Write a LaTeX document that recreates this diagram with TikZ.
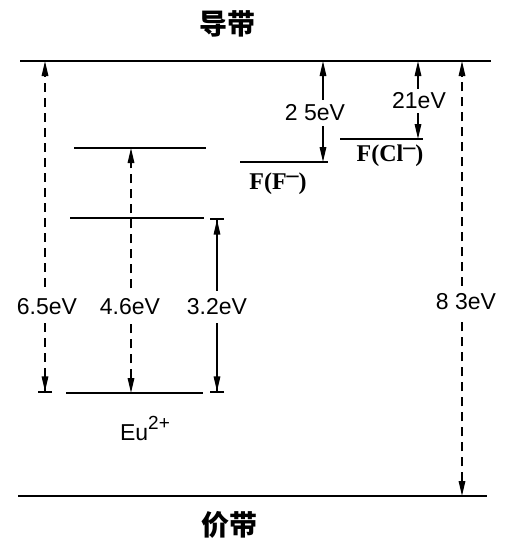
\documentclass[tikz,border=0pt]{standalone}
\usepackage{fontspec}
\setmainfont{Liberation Sans}
\newfontfamily\cjk{Noto Sans CJK SC}
\newfontfamily\serifF{Liberation Serif}
\usetikzlibrary{arrows.meta, positioning}

\begin{document}
\begin{tikzpicture}[
    x=1pt, y=-1pt,
    band/.style={line width=2.8pt},
    lev/.style={line width=2.2pt},
    Tri/.tip={Triangle[length=15pt, width=6.5pt]},
    Br/.tip={Bar[width=14pt, line width=1.6pt]},
    gap/.style={line width=1.6pt, {Tri[]}-{Tri[]}},
    dashgap/.style={gap, dash pattern=on 9pt off 6pt},
    eV/.style={fill=white, inner xsep=1pt, inner ysep=8pt, font=\fontsize{23}{26}\selectfont},
    state/.style={inner sep=0pt, font=\serifF\bfseries\fontsize{24}{26}\selectfont},
    bandname/.style={font=\cjk\bfseries\fontsize{28}{30}\selectfont}
]
\useasboundingbox (0,0) rectangle (509,544);

% Bands
\coordinate (cbL) at (20,61);
\coordinate (cbR) at (491,61);
\coordinate (vbL) at (18,496);
\coordinate (vbR) at (487,496);
\draw[band] (cbL) -- (cbR);
\draw[band] (vbL) -- (vbR);
\node[bandname] (cb) at (227,24) {导带};
\node[bandname] (vb) at (229,525) {价带};

% Eu levels
\coordinate (euTopL) at (74,148);  \coordinate (euTopR) at (206,148);
\coordinate (euMidL) at (70,218);  \coordinate (euMidR) at (204,218);
\coordinate (euGndL) at (66,393);  \coordinate (euGndR) at (203,393);
\draw[lev] (euTopL) -- (euTopR);
\draw[lev] (euMidL) -- (euMidR);
\draw[lev] (euGndL) -- (euGndR);

% F centre levels
\coordinate (fFL) at (240,162);   \coordinate (fFR) at (328,162);
\coordinate (fClL) at (340,139);  \coordinate (fClR) at (423,139);
\draw[lev] (fFL) -- (fFR);
\draw[lev] (fClL) -- (fClR);

% Energy gaps
\coordinate (g65b) at (45,393);   \coordinate (g65t) at (45,61);
\coordinate (g46b) at (131,393);  \coordinate (g46t) at (131,148);
\coordinate (g32b) at (217,393);  \coordinate (g32t) at (217,218);
\coordinate (g25b) at (323,162);  \coordinate (g25t) at (323,61);
\coordinate (g21b) at (418,139);  \coordinate (g21t) at (418,61);
\coordinate (g83b) at (462,496);  \coordinate (g83t) at (462,61);

\draw[dashgap, {Br[] Tri[]}-{Tri[]}] (g65b) -- (g65t);
\draw[dashgap] (g46b) -- (g46t);
\draw[gap, {Br[] Tri[]}-{Tri[] Br[]}] (g32b) -- (g32t);
\draw[gap] (g25b) -- (g25t);
\draw[gap] (g21b) -- (g21t);
\draw[dashgap] (g83b) -- (g83t);

% Labels
\node[eV] (e65) at (47,307) {6.5eV};
\node[eV] (e46) at (130,307) {4.6eV};
\node[eV] (e32) at (217,307) {3.2eV};
\node[eV, inner ysep=5pt] (e25) at (315,113) {2 5eV};
\node[eV, inner ysep=4pt] (e21) at (419,101) {21eV};
\node[eV] (e83) at (466,302) {8 3eV};

\node[state] (lblF) at (278,184) {F(F\raisebox{7pt}{\textendash})};
\node[state] (lblCl) at (390,156) {F(Cl\raisebox{7pt}{\textendash})};
\node[font=\fontsize{23}{26}\selectfont] (lblEu) at (145,428)
    {Eu\raisebox{11pt}{\fontsize{19}{20}\selectfont 2+}};

\end{tikzpicture}
\end{document}
